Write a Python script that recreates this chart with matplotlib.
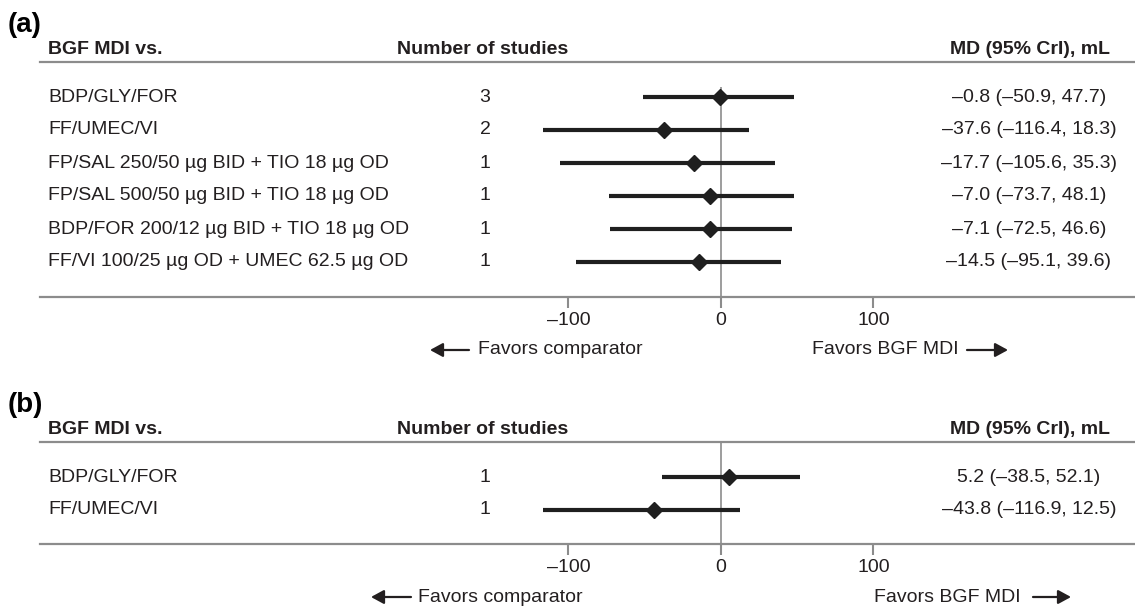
import matplotlib.pyplot as plt
from matplotlib.transforms import blended_transform_factory

plt.rcParams['font.family'] = ['Liberation Sans', 'DejaVu Sans']

# ---- data ----
labels_a = ['BDP/GLY/FOR', 'FF/UMEC/VI',
            'FP/SAL 250/50 µg BID + TIO 18 µg OD',
            'FP/SAL 500/50 µg BID + TIO 18 µg OD',
            'BDP/FOR 200/12 µg BID + TIO 18 µg OD',
            'FF/VI 100/25 µg OD + UMEC 62.5 µg OD']
n_studies_a = [3, 2, 1, 1, 1, 1]
md_a = [-0.8, -37.6, -17.7, -7.0, -7.1, -14.5]
lo_a = [-50.9, -116.4, -105.6, -73.7, -72.5, -95.1]
hi_a = [47.7, 18.3, 35.3, 48.1, 46.6, 39.6]

labels_b = ['BDP/GLY/FOR', 'FF/UMEC/VI']
n_studies_b = [1, 1]
md_b = [5.2, -43.8]
lo_b = [-38.5, -116.9]
hi_b = [52.1, 12.5]

ticks = [-100, 0, 100]
tick_labels = ['–100', '0', '100']

TXT = '#231f20'
GRAY = '#8c8c8c'
BAR = '#1f1f1f'
W, H = 1135, 607


def fx(px):
    return px / W


def fy(py):
    return 1 - py / H


def _fmt(md, lo, hi):
    return f"{md:.1f} ({lo:.1f}, {hi:.1f})".replace('-', '–')


def draw_panel(fig, top, bottom, letter, labels, n_studies, md, lo, hi,
               zero_top, left_arrow, right_arrow):
    """一个森林图面板：表头、行文字、误差线、坐标轴和方向箭头。"""
    ax = fig.add_axes([fx(40), fy(bottom), 1 - fx(40), (bottom - top) / H])
    rows = list(range(len(labels)))
    span = (bottom - top) / 33.0
    first = (35) / 33.0
    ax.set_ylim(span - first, -first)
    ax.set_xlim((40 - 721) / 1.525, (1135 - 721) / 1.525)

    ax.vlines(0, zero_top, span - first, color=GRAY, lw=1.2, zorder=1)
    ax.hlines(rows, lo, hi, color=BAR, lw=3, zorder=2)
    ax.plot(md, rows, 'D', color=BAR, ms=8.5, zorder=3)

    for s in ('left', 'right'):
        ax.spines[s].set_visible(False)
    for s in ('top', 'bottom'):
        ax.spines[s].set_color(GRAY)
        ax.spines[s].set_linewidth(1.6)
    ax.set_yticks([])
    ax.set_xticks(ticks)
    ax.set_xticklabels(tick_labels)
    ax.tick_params(axis='x', length=8, width=1.5, color=GRAY, pad=3,
                   labelsize=14, labelcolor=TXT)

    tr = blended_transform_factory(fig.transFigure, ax.transData)
    for i in rows:
        ax.text(fx(48), i, labels[i], transform=tr, ha='left', va='center',
                fontsize=14, color=TXT)
        ax.text(fx(485), i, str(n_studies[i]), transform=tr, ha='center',
                va='center', fontsize=14, color=TXT)
        ax.text(fx(1029), i, _fmt(md[i], lo[i], hi[i]), transform=tr,
                ha='center', va='center', fontsize=14, color=TXT)

    # 表头
    hy = fy(top - 12)
    fig.text(fx(8), fy(top - 37), letter, fontsize=20, fontweight='bold',
             color='black', va='center', ha='left')
    fig.text(fx(48), hy, 'BGF MDI vs.', fontsize=14, fontweight='bold',
             color=TXT, va='center', ha='left')
    fig.text(fx(483), hy, 'Number of studies', fontsize=14,
             fontweight='bold', color=TXT, va='center', ha='center')
    fig.text(fx(1030), hy, 'MD (95% CrI), mL', fontsize=14,
             fontweight='bold', color=TXT, va='center', ha='center')

    # 方向箭头
    ay = fy(bottom + 53)
    arrow = dict(arrowstyle='-|>,head_length=0.55,head_width=0.3',
                 color=TXT, lw=1.6, mutation_scale=14, shrinkA=0, shrinkB=0)
    x0, x1, xt = left_arrow
    fig.text(fx(xt), ay, 'Favors comparator', fontsize=14, color=TXT,
             va='center', ha='left')
    ax.annotate('', xy=(fx(x0), ay), xytext=(fx(x1), ay),
                xycoords='figure fraction', textcoords='figure fraction',
                arrowprops=arrow)
    xt, x0, x1 = right_arrow
    fig.text(fx(xt), ay, 'Favors BGF MDI', fontsize=14, color=TXT,
             va='center', ha='left')
    ax.annotate('', xy=(fx(x1), ay), xytext=(fx(x0), ay),
                xycoords='figure fraction', textcoords='figure fraction',
                arrowprops=arrow)
    return ax


fig = plt.figure(figsize=(W / 100, H / 100), dpi=100)

draw_panel(fig, 62, 297, '(a)', labels_a, n_studies_a, md_a, lo_a, hi_a,
           zero_top=-0.3, left_arrow=(430, 469, 478),
           right_arrow=(812, 967, 1008))
draw_panel(fig, 442, 544, '(b)', labels_b, n_studies_b, md_b, lo_b, hi_b,
           zero_top=-1.1, left_arrow=(371, 411, 418),
           right_arrow=(874, 1033, 1071))

fig.savefig('out.png', dpi=100)
